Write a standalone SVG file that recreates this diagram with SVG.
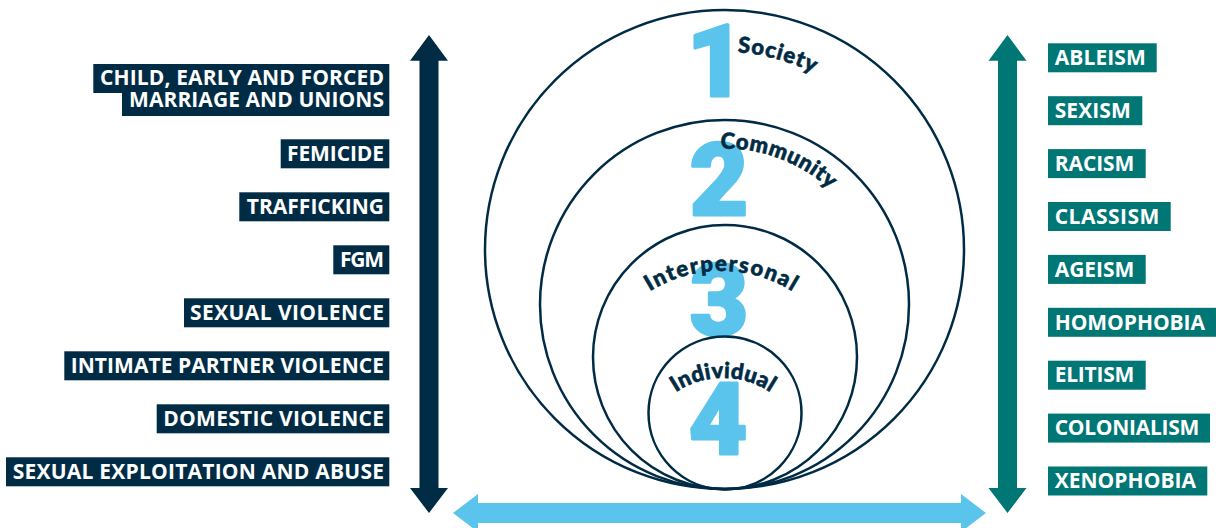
<svg xmlns="http://www.w3.org/2000/svg" xmlns:xlink="http://www.w3.org/1999/xlink" width="1216" height="528" viewBox="0 0 1216 528">
  <style>
    .lbox { fill: #002b44; }
    .rbox { fill: #007675; }
    .btxt { font-family: "Open Sans", "Noto Sans", "Liberation Sans", sans-serif; font-weight: 700; font-size: 21px; fill: #ffffff; }
    .ring { fill: none; stroke: #002b44; stroke-width: 2.5; }
    .digit { font-family: "Roboto", "Lato", "Liberation Sans", sans-serif; font-weight: 900; font-size: 101px; fill: #5bc4ec; stroke: #5bc4ec; stroke-width: 3; stroke-linejoin: round; text-anchor: middle; }
    .arc { font-family: "Lato", "Open Sans", "Liberation Sans", sans-serif; font-weight: 900; font-size: 22px; fill: #002b44; stroke: #002b44; stroke-width: 0.6; }
  </style>
  <defs>
    <path id="pSociety" d="M 527,249.5 A 197.5 197.5 0 0 1 922,249.5"/>
    <path id="pCommunity" d="M 568.5,304.5 A 156 156 0 0 1 880.5,304.5"/>
    <path id="pInterpersonal" d="M 586,406 A 135 135 0 0 1 856,406"/>
    <path id="pIndividual" d="M 638,463 A 85 85 0 0 1 808,463"/>
  </defs>
  <rect width="1216" height="528" fill="#ffffff"/>

  <g id="connectors">
    <polygon id="arrow-left" fill="#002b44" points="429,35 448,60.7 438.5,60.7 438.5,488 448,488 429,513 410,488 419.5,488 419.5,60.7 410,60.7"/>
    <polygon id="arrow-right" fill="#007675" points="1007.5,35 1026.5,60.7 1017,60.7 1017,488 1026.5,488 1007.5,513 988.5,488 998,488 998,60.7 988.5,60.7"/>
    <polygon id="arrow-bottom" fill="#5bc4ec" points="453,513 478,494 478,503 961,503 961,494 986,513 961,532 961,523 478,523 478,532"/>
  </g>

  <g id="ring-society">
    <circle class="ring" cx="724.5" cy="249.5" r="239.5"/>
    <text class="digit" x="716" y="96">1</text>
    <text class="arc"><textPath xlink:href="#pSociety" href="#pSociety" startOffset="323" textLength="79">Society</textPath></text>
  </g>
  <g id="ring-community">
    <circle class="ring" cx="724.5" cy="304.5" r="184.5"/>
    <text class="digit" x="719" y="215">2</text>
    <text class="arc"><textPath xlink:href="#pCommunity" href="#pCommunity" startOffset="241" textLength="119">Community</textPath></text>
  </g>
  <g id="ring-interpersonal">
    <circle class="ring" cx="725" cy="357" r="132"/>
    <text class="digit" x="719" y="335">3</text>
    <text class="arc" text-anchor="middle"><textPath xlink:href="#pInterpersonal" href="#pInterpersonal" startOffset="50%" textLength="150">Interpersonal</textPath></text>
  </g>
  <g id="ring-individual">
    <circle class="ring" cx="725" cy="413" r="76.5"/>
    <text class="digit" x="718" y="454">4</text>
    <text class="arc" text-anchor="middle"><textPath xlink:href="#pIndividual" href="#pIndividual" startOffset="50%" textLength="100">Individual</textPath></text>
  </g>

  <g id="left-labels">
    <g id="l-child">
      <rect class="lbox" x="93.3" y="64" width="296" height="29"/>
      <rect class="lbox" x="122" y="92.5" width="267.3" height="23.5"/>
      <text class="btxt" x="100" y="85" textLength="284">CHILD, EARLY AND FORCED</text>
      <text class="btxt" x="129" y="107.3" textLength="255">MARRIAGE AND UNIONS</text>
    </g>
    <g id="l-femicide">
      <rect class="lbox" x="280.7" y="139.3" width="108.6" height="29"/>
      <text class="btxt" x="287" y="160.8" textLength="97">FEMICIDE</text>
    </g>
    <g id="l-trafficking">
      <rect class="lbox" x="239.3" y="192.3" width="150" height="29"/>
      <text class="btxt" x="246.7" y="213.8" textLength="137.3">TRAFFICKING</text>
    </g>
    <g id="l-fgm">
      <rect class="lbox" x="333.3" y="245.3" width="56" height="29"/>
      <text class="btxt" x="340" y="266.8" textLength="44">FGM</text>
    </g>
    <g id="l-sexual-violence">
      <rect class="lbox" x="184" y="298.3" width="205.3" height="29"/>
      <text class="btxt" x="190" y="319.8" textLength="194">SEXUAL VIOLENCE</text>
    </g>
    <g id="l-ipv">
      <rect class="lbox" x="64.3" y="351.3" width="325" height="29"/>
      <text class="btxt" x="70.7" y="372.8" textLength="313.3">INTIMATE PARTNER VIOLENCE</text>
    </g>
    <g id="l-domestic">
      <rect class="lbox" x="156.7" y="404.3" width="232.6" height="29"/>
      <text class="btxt" x="163.3" y="425.8" textLength="220.7">DOMESTIC VIOLENCE</text>
    </g>
    <g id="l-sea">
      <rect class="lbox" x="6" y="457.3" width="383.3" height="29"/>
      <text class="btxt" x="12.7" y="478.8" textLength="371.3">SEXUAL EXPLOITATION AND ABUSE</text>
    </g>
  </g>

  <g id="right-labels">
    <g id="r-ableism">
      <rect class="rbox" x="1048" y="43.3" width="108.7" height="29"/>
      <text class="btxt" x="1054.7" y="65" textLength="91">ABLEISM</text>
    </g>
    <g id="r-sexism">
      <rect class="rbox" x="1048" y="96.2" width="94.3" height="29"/>
      <text class="btxt" x="1054.7" y="117.9" textLength="76">SEXISM</text>
    </g>
    <g id="r-racism">
      <rect class="rbox" x="1048" y="149.1" width="97.7" height="29"/>
      <text class="btxt" x="1054.7" y="170.8" textLength="79.7">RACISM</text>
    </g>
    <g id="r-classism">
      <rect class="rbox" x="1048" y="202" width="122.7" height="29"/>
      <text class="btxt" x="1054.7" y="223.7" textLength="104.7">CLASSISM</text>
    </g>
    <g id="r-ageism">
      <rect class="rbox" x="1048" y="254.9" width="97.7" height="29"/>
      <text class="btxt" x="1054.7" y="276.6" textLength="79.7">AGEISM</text>
    </g>
    <g id="r-homophobia">
      <rect class="rbox" x="1048" y="307.8" width="168" height="29"/>
      <text class="btxt" x="1054.7" y="329.5" textLength="150.3">HOMOPHOBIA</text>
    </g>
    <g id="r-elitism">
      <rect class="rbox" x="1048" y="360.7" width="97.7" height="29"/>
      <text class="btxt" x="1054.7" y="382.4" textLength="79.7">ELITISM</text>
    </g>
    <g id="r-colonialism">
      <rect class="rbox" x="1048" y="413.6" width="162" height="29"/>
      <text class="btxt" x="1054.7" y="435.3" textLength="144.7">COLONIALISM</text>
    </g>
    <g id="r-xenophobia">
      <rect class="rbox" x="1048" y="466.5" width="159.3" height="29"/>
      <text class="btxt" x="1054.7" y="488.2" textLength="141.3">XENOPHOBIA</text>
    </g>
  </g>
</svg>
